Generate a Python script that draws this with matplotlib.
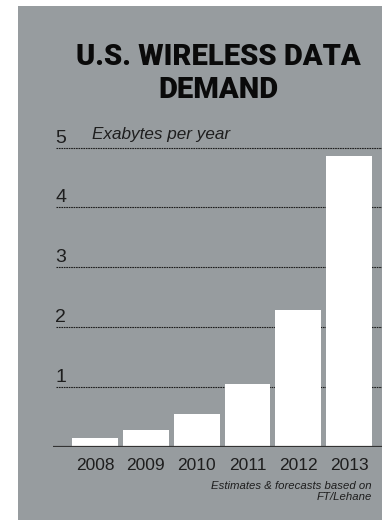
import matplotlib.pyplot as plt
from matplotlib.patches import Rectangle
from matplotlib.transforms import blended_transform_factory

# Exabytes per year, US wireless data (estimates & forecasts)
years = ["2008", "2009", "2010", "2011", "2012", "2013"]
exabytes = [0.15, 0.28, 0.55, 1.05, 2.28, 4.85]
gridlines = [1, 2, 3, 4, 5]

PANEL = "#979c9f"
INK = "#1e1e1e"

W, H = 382, 520
fig = plt.figure(figsize=(W / 100, H / 100), dpi=100)
fig.patch.set_facecolor("white")

# grey card behind everything
fig.add_artist(Rectangle((18 / W, 0), 1 - 18 / W, 1 - 6 / H,
                         transform=fig.transFigure, facecolor=PANEL,
                         edgecolor="none", zorder=0))

for text, ypx in [("U.S. WIRELESS DATA", 57), ("DEMAND", 90)]:
    fig.text(218 / W, 1 - ypx / H, text, ha="center", va="center",
             fontsize=21, fontweight="heavy", family="Roboto", color="#0a0a0a")

# axes: left at the baseline start, y=0 at pixel row 446.5
px_per_unit = 59.8
ymax = 5.2
bottom_px = 446.5
ax = fig.add_axes([53 / W, 1 - bottom_px / H, (W - 53) / W,
                   ymax * px_per_unit / H])
ax.set_facecolor("none")
fig_x = blended_transform_factory(fig.transFigure, ax.transData)

x = list(range(len(years)))
ax.bar(x, exabytes, width=0.9, color="white", zorder=3)
ax.set_xlim(-0.83, 5.65)
ax.set_ylim(0, ymax)

for g in gridlines:
    ax.axhline(g, xmin=3 / (W - 53), color=INK, lw=0.8, ls=(0, (1.5, 0.7)),
               zorder=1)
    ax.text(55 / W, g + 0.015, str(g), transform=fig_x, ha="left",
            va="bottom", fontsize=14, family="Liberation Sans", color=INK)

ax.axhline(0, color="#333333", lw=1.6, zorder=4)

ax.text(92 / W, 5.1, "Exabytes per year", transform=fig_x, ha="left",
        va="bottom", fontsize=12.3, style="italic", family="Liberation Sans",
        color=INK)

ax.set_xticks(x)
ax.set_xticklabels(years, fontsize=12.5, family="Liberation Sans", color=INK)
ax.tick_params(axis="x", length=0, pad=8)
ax.set_yticks([])
for s in ax.spines.values():
    s.set_visible(False)

for text, ypx in [("Estimates & forecasts based on", 486), ("FT/Lehane", 497.5)]:
    fig.text(372 / W, 1 - ypx / H, text, ha="right", va="center",
             fontsize=8.2, style="italic", family="Liberation Sans", color=INK)

fig.savefig("out.png", dpi=100)
